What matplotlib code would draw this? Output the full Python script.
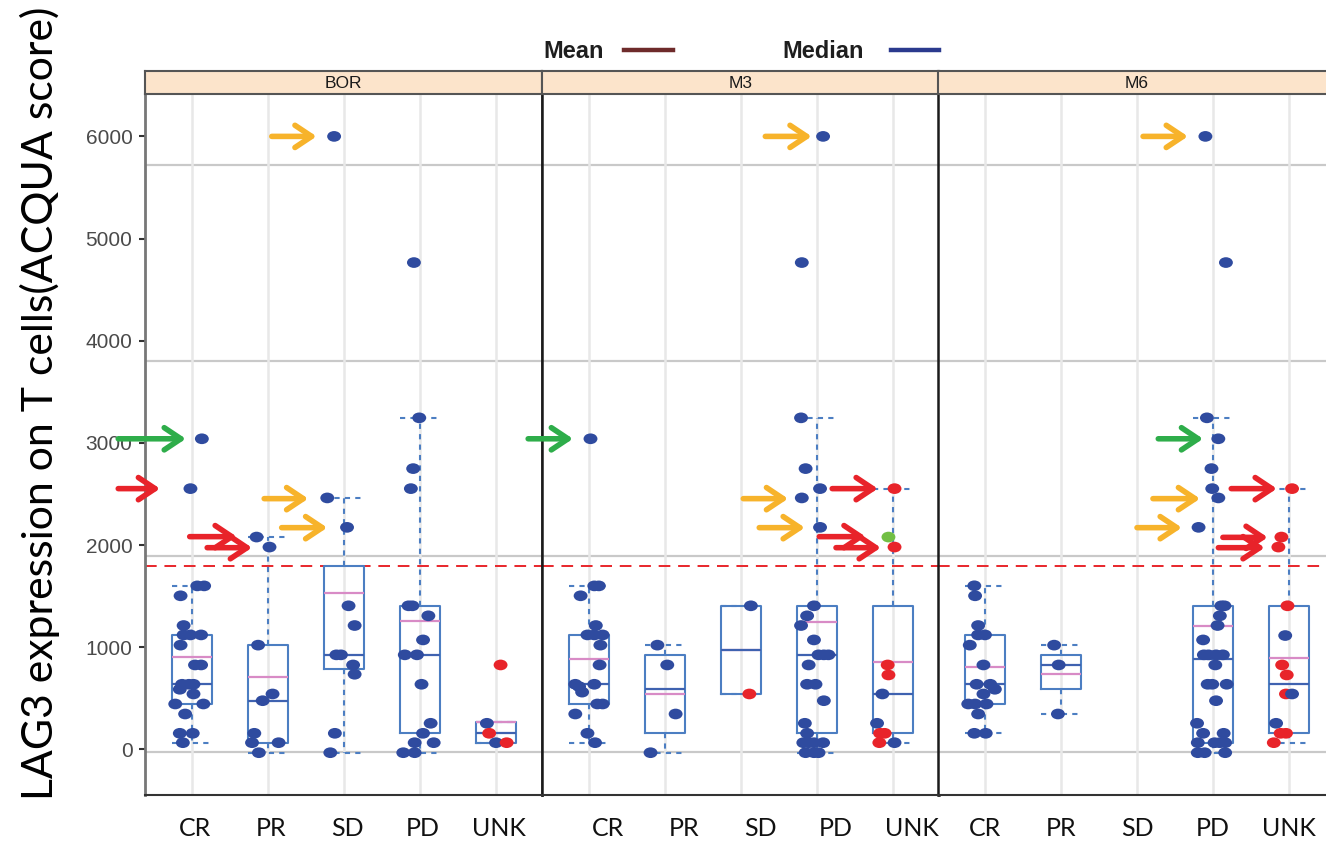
import matplotlib
matplotlib.use('Agg')
import matplotlib.pyplot as plt
import matplotlib.transforms as mtransforms
from matplotlib.path import Path
from matplotlib.lines import Line2D

W, H = 1326, 842

categories = ['CR', 'PR', 'SD', 'PD', 'UNK']
panels = ['BOR', 'M3', 'M6']
yticks = [0, 1000, 2000, 3000, 4000, 5000, 6000]
grid_y = [-25, 1890, 3800, 5720]
cutoff = 1790

# points: (category index, jitter, LAG3 score, colour key)
bor_points = [
    (0, 0.13, 3040, 'b'), (0, -0.02, 2552, 'b'), (0, 0.07, 1600, 'b'), (0, 0.16, 1600, 'b'),
    (0, -0.15, 1503, 'b'), (0, -0.11, 1212, 'b'), (0, -0.11, 1120, 'b'), (0, -0.02, 1120, 'b'),
    (0, 0.12, 1120, 'b'), (0, -0.15, 1020, 'b'), (0, 0.04, 826, 'b'), (0, 0.12, 826, 'b'),
    (0, -0.13, 637, 'b'), (0, -0.04, 637, 'b'), (0, 0.02, 637, 'b'), (0, -0.16, 588, 'b'),
    (0, 0.02, 542, 'b'), (0, -0.22, 444, 'b'), (0, 0.15, 444, 'b'), (0, -0.09, 346, 'b'),
    (0, -0.16, 157, 'b'), (0, 0.01, 157, 'b'), (0, -0.12, 65, 'b'),
    (1, -0.15, 2078, 'b'), (1, 0.02, 1980, 'b'), (1, -0.13, 1020, 'b'), (1, 0.06, 542, 'b'),
    (1, -0.07, 476, 'b'), (1, -0.18, 157, 'b'), (1, -0.21, 65, 'b'), (1, 0.14, 65, 'b'),
    (1, -0.12, -33, 'b'),
    (2, -0.13, 6000, 'b'), (2, -0.22, 2461, 'b'), (2, 0.04, 2173, 'b'), (2, 0.06, 1405, 'b'),
    (2, 0.14, 1212, 'b'), (2, -0.10, 925, 'b'), (2, -0.04, 925, 'b'), (2, 0.12, 826, 'b'),
    (2, 0.14, 735, 'b'), (2, -0.12, 157, 'b'), (2, -0.18, -33, 'b'),
    (3, -0.08, 4765, 'b'), (3, -0.01, 3245, 'b'), (3, -0.09, 2748, 'b'), (3, -0.12, 2552, 'b'),
    (3, -0.15, 1405, 'b'), (3, -0.10, 1405, 'b'), (3, 0.11, 1307, 'b'), (3, 0.04, 1071, 'b'),
    (3, -0.20, 925, 'b'), (3, -0.04, 925, 'b'), (3, 0.02, 637, 'b'), (3, 0.14, 255, 'b'),
    (3, 0.04, 157, 'b'), (3, -0.07, 65, 'b'), (3, 0.18, 65, 'b'), (3, -0.22, -33, 'b'),
    (3, -0.07, -33, 'b'),
    (4, 0.06, 826, 'r'), (4, -0.12, 255, 'b'), (4, -0.09, 157, 'r'), (4, 0.0, 65, 'b'),
    (4, 0.14, 65, 'r'),
]
m3_points = [
    (0, 0.02, 3040, 'b'), (0, 0.07, 1600, 'b'), (0, 0.13, 1600, 'b'), (0, -0.11, 1503, 'b'),
    (0, 0.09, 1212, 'b'), (0, -0.02, 1120, 'b'), (0, 0.07, 1120, 'b'), (0, 0.18, 1120, 'b'),
    (0, 0.15, 1020, 'b'), (0, 0.14, 826, 'b'), (0, -0.18, 637, 'b'), (0, 0.07, 637, 'b'),
    (0, -0.13, 614, 'b'), (0, -0.09, 560, 'b'), (0, 0.11, 444, 'b'), (0, 0.18, 444, 'b'),
    (0, -0.18, 346, 'b'), (0, -0.02, 157, 'b'), (0, 0.08, 65, 'b'),
    (1, -0.10, 1020, 'b'), (1, 0.03, 826, 'b'), (1, 0.14, 346, 'b'), (1, -0.19, -33, 'b'),
    (2, 0.13, 1405, 'b'), (2, 0.11, 542, 'r'),
    (3, 0.08, 6000, 'b'), (3, -0.20, 4765, 'b'), (3, -0.21, 3245, 'b'), (3, -0.15, 2748, 'b'),
    (3, 0.04, 2552, 'b'), (3, -0.20, 2461, 'b'), (3, 0.04, 2173, 'b'), (3, -0.04, 1405, 'b'),
    (3, -0.13, 1307, 'b'), (3, -0.21, 1212, 'b'), (3, -0.04, 1071, 'b'), (3, 0.02, 925, 'b'),
    (3, 0.09, 925, 'b'), (3, 0.15, 925, 'b'), (3, -0.11, 826, 'b'), (3, -0.13, 637, 'b'),
    (3, -0.02, 637, 'b'), (3, 0.09, 476, 'b'), (3, -0.16, 255, 'b'), (3, -0.13, 157, 'b'),
    (3, -0.18, 65, 'b'), (3, -0.11, 65, 'b'), (3, -0.04, 65, 'b'), (3, 0.08, 65, 'b'),
    (3, -0.15, -33, 'b'), (3, -0.04, -33, 'b'), (3, 0.02, -33, 'b'),
    (4, 0.02, 2552, 'r'), (4, -0.06, 2078, 'g'), (4, 0.02, 1980, 'r'), (4, -0.07, 826, 'r'),
    (4, -0.06, 728, 'r'), (4, -0.14, 542, 'b'), (4, -0.21, 255, 'b'), (4, -0.17, 157, 'r'),
    (4, -0.11, 157, 'r'), (4, -0.18, 65, 'r'), (4, 0.02, 65, 'b'),
]
m6_points = [
    (0, -0.14, 1601, 'b'), (0, -0.13, 1503, 'b'), (0, -0.09, 1212, 'b'), (0, -0.09, 1120, 'b'),
    (0, 0.0, 1120, 'b'), (0, -0.20, 1020, 'b'), (0, -0.02, 826, 'b'), (0, -0.11, 637, 'b'),
    (0, 0.07, 637, 'b'), (0, 0.13, 588, 'b'), (0, -0.02, 542, 'b'), (0, -0.22, 444, 'b'),
    (0, -0.13, 444, 'b'), (0, 0.02, 444, 'b'), (0, -0.09, 346, 'b'), (0, -0.14, 157, 'b'),
    (0, 0.01, 157, 'b'),
    (1, -0.09, 1020, 'b'), (1, -0.03, 826, 'b'), (1, -0.04, 346, 'b'),
    (3, -0.10, 6000, 'b'), (3, 0.17, 4765, 'b'), (3, -0.08, 3245, 'b'), (3, 0.07, 3040, 'b'),
    (3, -0.02, 2748, 'b'), (3, -0.01, 2552, 'b'), (3, 0.07, 2461, 'b'), (3, -0.19, 2173, 'b'),
    (3, 0.11, 1405, 'b'), (3, 0.15, 1405, 'b'), (3, 0.09, 1307, 'b'), (3, 0.06, 1212, 'b'),
    (3, -0.13, 1071, 'b'), (3, -0.12, 925, 'b'), (3, -0.06, 925, 'b'), (3, 0.04, 925, 'b'),
    (3, 0.13, 925, 'b'), (3, 0.03, 826, 'b'), (3, -0.07, 637, 'b'), (3, -0.01, 637, 'b'),
    (3, 0.18, 637, 'b'), (3, 0.04, 476, 'b'), (3, -0.21, 255, 'b'), (3, -0.13, 157, 'b'),
    (3, 0.14, 157, 'b'), (3, -0.20, 65, 'b'), (3, 0.02, 65, 'b'), (3, 0.09, 65, 'b'),
    (3, 0.16, 65, 'b'), (3, -0.20, -33, 'b'), (3, -0.11, -33, 'b'), (3, 0.16, -33, 'b'),
    (4, 0.04, 2552, 'r'), (4, -0.10, 2078, 'r'), (4, -0.14, 1980, 'r'), (4, -0.02, 1405, 'r'),
    (4, -0.05, 1114, 'b'), (4, -0.09, 826, 'r'), (4, -0.03, 728, 'r'), (4, -0.04, 542, 'r'),
    (4, 0.04, 542, 'b'), (4, -0.17, 255, 'b'), (4, -0.11, 157, 'r'), (4, -0.04, 157, 'r'),
    (4, -0.20, 65, 'r'),
]

# box summaries: q1, median, q3, lower whisker, upper whisker, mean
bor_boxes = {
    'CR': (444, 637, 1120, 65, 1601, 902),
    'PR': (65, 476, 1020, -33, 2078, 706),
    'SD': (784, 925, 1790, -33, 2461, 1529),
    'PD': (157, 925, 1405, -33, 3245, 1261),
    'UNK': (65, 157, 271, 65, 271, 271),
}
m3_boxes = {
    'CR': (444, 637, 1120, 65, 1601, 888),
    'PR': (157, 588, 925, -33, 1020, 542),
    'SD': (542, 973, 1405, 542, 1405, 973),
    'PD': (157, 925, 1405, -33, 3245, 1248),
    'UNK': (157, 542, 1405, 65, 2552, 853),
}
m6_boxes = {
    'CR': (444, 637, 1120, 157, 1601, 810),
    'PR': (588, 826, 925, 346, 1020, 735),
    'PD': (65, 882, 1405, -33, 3245, 1209),
    'UNK': (157, 637, 1405, 65, 2552, 892),
}

# arrows: (tail x, head x, y, colour key) in category units
bor_arrows = [
    (1.05, 1.64, 6000, 'y'), (-0.97, -0.08, 3040, 'g'), (-0.97, -0.42, 2552, 'r'),
    (-0.03, 0.59, 2082, 'r'), (0.20, 0.79, 1974, 'r'),
    (0.95, 1.53, 2454, 'y'), (1.18, 1.78, 2170, 'y'),
]
m3_arrows = [
    (2.32, 2.93, 6000, 'y'), (-0.80, -0.21, 3040, 'g'),
    (2.03, 2.62, 2454, 'y'), (2.24, 2.84, 2170, 'y'),
    (3.20, 3.80, 2552, 'r'), (3.03, 3.64, 2082, 'r'), (3.25, 3.84, 1974, 'r'),
]
m6_arrows = [
    (2.08, 2.67, 6000, 'y'), (2.28, 2.87, 3040, 'g'),
    (2.21, 2.83, 2454, 'y'), (2.00, 2.59, 2170, 'y'),
    (3.24, 3.84, 2552, 'r'), (3.13, 3.72, 2075, 'r'), (3.07, 3.68, 1974, 'r'),
]

pt_colors = {'b': '#2F4B9F', 'r': '#E8242A', 'g': '#72BF44'}
arrow_colors = {'y': '#F7B32B', 'g': '#2EAD4A', 'r': '#E8232A'}
box_col = '#4C7EC2'
mean_col = '#D88BC6'

# slightly wide dots
circ = Path.unit_circle()
dot = Path(circ.vertices * [1.3, 1.0], circ.codes)

fig = plt.figure(figsize=(W / 100, H / 100), dpi=100)

def fx(x):
    return x / W

def fy(y):
    return 1 - y / H

ax_top, ax_bot, panel_w = 94, 795, 397
lefts = [145, 542, 938]
label_shift = [3, 19, 0]
all_points = [bor_points, m3_points, m6_points]
all_boxes = [bor_boxes, m3_boxes, m6_boxes]
all_arrows = [bor_arrows, m3_arrows, m6_arrows]

for i, name in enumerate(panels):
    left = lefts[i]
    ax = fig.add_axes([fx(left), fy(ax_bot), panel_w / W, (ax_bot - ax_top) / H])
    ax.set_xlim(-0.618, 4.605)
    ax.set_ylim(-447, 6415)

    for g in grid_y:
        ax.axhline(g, color='#C9C9C9', lw=1.6, zorder=0)
    for k in range(len(categories)):
        ax.axvline(k, color='#E8E8E8', lw=1.8, zorder=0)
    ax.axhline(cutoff, color='#E8262B', lw=1.4, ls=(0, (6, 4)), zorder=1)

    boxes = all_boxes[i]
    stats, pos = [], []
    for k, c in enumerate(categories):
        if c not in boxes:
            continue
        q1, med, q3, lo, hi, mean = boxes[c]
        stats.append(dict(q1=q1, med=med, q3=q3, whislo=lo, whishi=hi, mean=mean, fliers=[]))
        pos.append(k)
    ax.bxp(stats, positions=pos, widths=0.52, capwidths=0.52, showmeans=True, meanline=True,
           showfliers=False, manage_ticks=False,
           boxprops=dict(color=box_col, lw=1.5),
           whiskerprops=dict(color=box_col, lw=1.5, ls=(0, (2.5, 2.5))),
           capprops=dict(color=box_col, lw=1.5, ls=(0, (2.5, 2.5))),
           medianprops=dict(color='#3F62B0', lw=1.6, zorder=2.2),
           meanprops=dict(color=mean_col, lw=1.6, ls='-', zorder=2.1))

    pts = all_points[i]
    ax.scatter([p[0] + p[1] for p in pts], [p[2] for p in pts], s=100, marker=dot,
               c=[pt_colors[p[3]] for p in pts], linewidths=0, zorder=4)

    for x0, x1, y, ck in all_arrows[i]:
        ax.annotate('', xy=(x1, y), xytext=(x0, y), annotation_clip=False,
                    arrowprops=dict(arrowstyle='->,head_length=0.6,head_width=0.4',
                                    color=arrow_colors[ck], lw=4, shrinkA=0, shrinkB=0,
                                    mutation_scale=20), zorder=5)

    ax.set_xticks(range(len(categories)))
    ax.set_xticklabels(categories, fontsize=18, family='Lato', color='#111111')
    ax.tick_params(axis='x', length=0, pad=16)
    shift = mtransforms.ScaledTranslation(label_shift[i] / 100, 0, fig.dpi_scale_trans)
    for lbl in ax.get_xticklabels():
        lbl.set_transform(lbl.get_transform() + shift)

    if i == 0:
        ax.set_yticks(yticks)
        ax.set_yticklabels([str(v) for v in yticks], fontsize=15, family='Liberation Sans',
                           color='#4A4A4A')
        ax.tick_params(axis='y', length=4, width=1.5, color='#333333', pad=5)
        ax.spines['left'].set_color('#777777')
        ax.spines['left'].set_linewidth(2)
    else:
        ax.set_yticks([])
        ax.spines['left'].set_color('#1A1A1A')
        ax.spines['left'].set_linewidth(1.8)
    ax.spines['right'].set_color('#1A1A1A')
    ax.spines['right'].set_linewidth(1.8)
    ax.spines['bottom'].set_color('#333333')
    ax.spines['bottom'].set_linewidth(1.5)
    ax.spines['top'].set_visible(False)

    # facet strip
    sax = fig.add_axes([fx(left), fy(ax_top), panel_w / W, (ax_top - 71) / H])
    sax.set_facecolor('#FCE4CB')
    sax.set_xticks([])
    sax.set_yticks([])
    for sp in sax.spines.values():
        sp.set_color('#555555')
        sp.set_linewidth(1.5)
    sax.text(0.5, 0.45, name, transform=sax.transAxes, ha='center', va='center',
             fontsize=12.5, family='Liberation Sans', color='#1A1A1A')

fig.text(fx(40), fy(800), 'LAG3 expression on T cells(ACQUA score)', rotation=90,
         ha='center', va='bottom', fontsize=30.8, family='Lato', color='black')

# legend for the two summary lines
fig.text(fx(543), fy(51), 'Mean', fontsize=17, weight='bold', family='Liberation Sans',
         color='#1E1E1E', va='center', ha='left')
fig.add_artist(Line2D([fx(624), fx(673)], [fy(50), fy(50)], color='#6E2B2B', lw=3.2,
                      transform=fig.transFigure))
fig.text(fx(782), fy(51), 'Median', fontsize=17, weight='bold', family='Liberation Sans',
         color='#1E1E1E', va='center', ha='left')
fig.add_artist(Line2D([fx(891), fx(939)], [fy(50), fy(50)], color='#2B3A8E', lw=3.2,
                      transform=fig.transFigure))

fig.savefig('out.png', dpi=100)
